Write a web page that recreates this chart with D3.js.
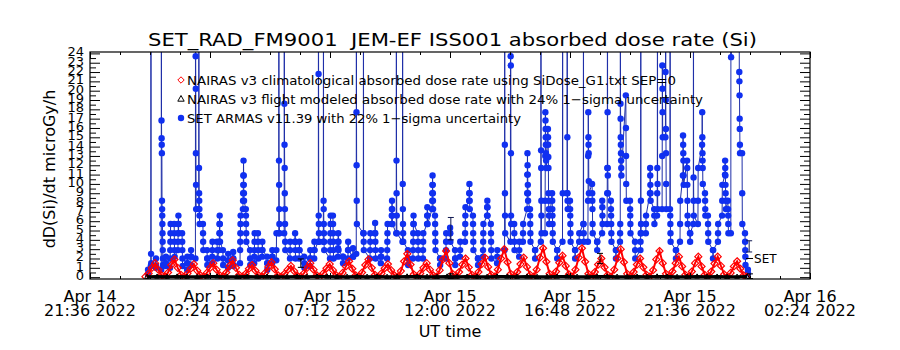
<!DOCTYPE html>
<html lang="en">
<head>
<meta charset="UTF-8">
<title>SET_RAD_FM9001 absorbed dose rate</title>
<script src="https://d3js.org/d3.v7.min.js"></script>
<style>
  body { margin: 0; background: #fff; }
  text { font-family: "DejaVu Sans", sans-serif; fill: #000; }
  .pre { white-space: pre; }
</style>
</head>
<body>
<script>

// ---- axis / labels ----
const titleText = 'SET_RAD_FM9001  JEM-EF ISS001 absorbed dose rate (Si)';
const xTitle = 'UT time';
const yTitle = 'dD(Si)/dt microGy/h';
const xTickTimes = ['2022-04-14T21:36Z', '2022-04-15T02:24Z', '2022-04-15T07:12Z', '2022-04-15T12:00Z',
                    '2022-04-15T16:48Z', '2022-04-15T21:36Z', '2022-04-16T02:24Z'];
const xTickDay = ['Apr 14', 'Apr 15', 'Apr 15', 'Apr 15', 'Apr 15', 'Apr 15', 'Apr 16'];
const xTickClock = ['21:36 2022', '02:24 2022', '07:12 2022', '12:00 2022', '16:48 2022', '21:36 2022', '02:24 2022'];
const yTickValues = [0, 1, 2, 3, 4, 5, 6, 7, 8, 9, 10, 11, 12, 13, 14, 15, 16, 17, 18, 19, 20, 21, 22, 23, 24];
const legendLabels = [
    'NAIRAS v3 climatological absorbed dose rate using SiDose_G1.txt SEP=0',
    'NAIRAS v3 flight modeled absorbed dose rate with 24% 1\u2212sigma uncertainty',
    'SET ARMAS v11.39 with 22% 1\u2212sigma uncertainty'
];

// all data times are minutes after this epoch
const dataEpoch = new Date(Date.UTC(2022, 3, 14, 21, 36));

// ---- SET ARMAS measured dose rate: sampled in bursts (burst start minute, values in order) ----
// 45 = off-scale SAA spike
const setColMinutes = [
    139, 146, 158, 171, 182, 192, 202, 211, 221, 233,
    242, 253, 261, 271, 281, 293, 305, 310, 319, 331,
    343, 360, 367, 374, 384, 394, 403, 413, 425, 437,
    447, 453, 466, 480, 492, 502, 514, 528, 538, 548,
    560, 576, 583, 595, 607, 619, 631, 639, 656, 672,
    684, 698, 713, 724, 735, 750, 763, 775, 787, 799,
    809, 821, 828, 840, 854, 864, 876, 888, 900, 910,
    919, 931, 943, 953, 962, 977, 995, 1009, 1018, 1030,
    1039, 1049, 1056, 1068, 1082, 1092, 1099, 1109, 1121, 1134,
    1145, 1152, 1164, 1174, 1184, 1195, 1205, 1217, 1229, 1241,
    1250, 1262, 1272, 1286, 1296, 1308, 1321, 1334, 1344, 1354,
    1361, 1373, 1381, 1392, 1406, 1416, 1423, 1433, 1440, 1448,
    1459, 1469, 1476, 1483, 1495, 1507, 1517, 1524, 1531, 1538,
    1558, 1565, 1572, 1579
];
const setColValues = [
    [0.3, 0.8], [1.2, 45, 2.5, 1.5], [1.0, 2.0, 1.2],
    [0.8, 45, 16.8, 14.9, 14.2, 13.3, 8.2, 7.3, 6.6, 5.7, 4.7, 3.8, 2.9, 2.0, 1.3],
    [1.2, 2.2, 1.5], [1.0, 2.0, 2.9, 3.8, 4.7, 5.7], [5.7, 4.7, 3.8, 2.9, 2.2],
    [2.9, 3.8, 4.7, 5.7, 6.6, 5.7, 4.7], [4.7, 3.8, 2.9, 2.0, 1.2], [0.8, 1.5, 2.2, 1.5],
    [1.3, 2.2, 2.9, 2.2], [2.0, 45, 23.7, 20.2, 13.3, 9.9, 7.3],
    [7.3, 45, 11.7, 9.0, 8.2, 7.3, 6.6, 5.7], [5.7, 4.7, 3.8, 2.9], [2.9, 2.0, 1.3, 2.0],
    [1.5, 2.2, 2.9, 3.8], [3.8, 2.9, 2.0], [2.9, 3.8, 4.7, 5.7, 6.6, 5.7, 4.7, 3.8],
    [2.9, 2.0, 1.3], [1.0, 1.8, 2.5, 1.8], [1.2, 2.0, 2.7, 2.0, 1.3],
    [1.5, 2.9, 3.8, 4.7, 5.7, 6.6], [7.3, 8.2, 9.0, 9.9, 10.9, 12.5, 10.9, 9.9, 9.0, 8.2],
    [7.3, 6.6, 5.7, 4.7, 3.8], [2.9, 2.0, 1.3], [1.5, 2.2, 2.9, 3.8, 4.7],
    [4.7, 3.8, 2.9, 2.0], [2.2, 2.9, 3.8, 2.9], [2.2, 1.5, 0.8, 1.5], [1.5, 2.2, 2.9, 2.2],
    [1.8, 2.9, 4.7], [4.7, 45, 12.5, 9.9, 7.3, 5.7, 4.7],
    [4.7, 45, 18.6, 14.2, 11.7, 9.0, 7.3, 5.7, 3.8, 2.9], [2.0, 2.9, 3.8],
    [3.8, 4.7, 3.8, 2.9, 2.0], [2.0, 2.9, 3.8, 2.9], [2.2, 1.5, 1.0], [1.2, 2.0, 2.9, 2.0],
    [2.0, 2.9, 3.8, 2.9], [3.8, 45, 21.8, 6.6, 5.7, 4.7, 3.8],
    [3.8, 45, 8.2, 7.3, 5.7, 4.7, 3.8, 2.9], [2.0, 2.9, 3.8, 4.7, 5.7, 6.6],
    [6.6, 5.7, 4.7, 3.8, 2.9, 2.0], [2.2, 3.1, 3.8, 4.7, 3.8, 2.9], [2.2, 1.5, 2.2],
    [2.0, 2.9, 3.8, 2.9], [2.2, 3.1, 2.2], [2.5, 45, 17.7, 12.0, 8.2, 5.7],
    [4.7, 45, 4.7, 3.8, 2.9], [2.0, 2.9, 3.8, 4.7], [4.7, 5.8, 4.7, 3.8, 2.9, 2.0],
    [1.5, 2.2, 2.9, 2.2], [2.0, 2.9, 3.8, 4.7, 5.7], [5.7, 6.6, 7.3, 8.2, 7.3, 6.6, 5.7],
    [4.7, 45, 12.5, 9.0, 6.6, 4.7], [3.8, 45, 10.0, 7.3, 5.7, 4.7, 3.8], [2.9, 2.0, 1.3],
    [2.0, 2.9, 3.8, 4.7, 5.7, 6.6, 5.7], [4.7, 3.8, 2.9, 2.0], [2.0, 2.9, 3.8, 4.7],
    [5.7, 6.6, 7.5, 6.6, 5.7], [7.3, 8.2, 9.0, 9.9, 10.9, 9.9, 9.0, 8.2, 7.3],
    [6.6, 5.7, 4.7, 3.8, 2.9], [2.0, 1.3, 2.0], [2.0, 2.9, 3.8, 4.7], [4.7, 5.3, 4.7, 3.8],
    [2.9, 2.0, 1.3, 2.0], [2.2, 2.9, 3.8], [3.8, 4.7, 5.7, 6.6, 7.5], [8.2, 9.0, 10.0, 9.0, 8.2, 7.3],
    [6.6, 5.7, 4.7, 3.8, 2.9], [2.0, 1.3, 2.0], [2.2, 2.9, 3.8, 4.7, 5.7], [6.6, 7.5, 8.2, 7.5, 6.6],
    [5.7, 4.7, 3.8, 2.9, 2.0], [1.5, 2.2, 2.9], [2.9, 45, 14.2, 9.0, 6.6, 4.7],
    [3.8, 45, 23.7, 22.7, 13.3, 6.6, 5.7], [5.7, 4.7, 3.8, 2.9], [2.2, 2.9, 3.8],
    [3.8, 4.7, 5.7], [7.3, 9.0, 11.0, 13.3, 12.0, 11.0, 9.9, 9.0, 8.2], [7.3, 6.6, 5.7, 4.7, 3.8],
    [2.9, 2.0, 2.9], [3.8, 45, 13.6, 11.7, 8.2, 6.6, 4.7],
    [4.7, 8.2, 13.0, 17.7, 16.8, 15.9, 15.0, 14.2, 13.3, 12.5, 11.7],
    [15.9, 15.0, 14.2, 12.9, 11.7, 9.0, 8.2, 7.3, 6.6, 5.7], [9.0, 8.2, 7.3, 6.6, 5.7, 4.7, 3.8],
    [2.9, 2.0, 2.9], [3.8, 45, 9.0], [9.0, 45, 15.0, 9.0, 8.2, 7.3], [8.2, 7.3, 6.6, 5.7, 4.7, 3.8],
    [2.9, 2.0, 2.9], [3.8, 4.7], [5.7, 45, 5.7, 4.7, 3.8],
    [3.8, 8.2, 13.0, 17.7, 15.0, 14.2, 13.3, 10.3, 9.0], [10.0, 9.0, 8.2, 7.3, 5.7, 4.7],
    [3.8, 2.9, 3.8], [4.7, 8.2, 7.5, 6.6, 5.7], [5.7, 9.0, 11.7, 45, 17.7, 11.7, 10.9, 9.0],
    [8.2, 7.3, 6.6, 5.7, 4.7, 3.8], [2.9, 2.0, 2.9],
    [3.8, 4.7, 5.7, 45, 18.6, 17.0, 15.0, 14.2, 13.3, 12.5, 11.7, 10.9],
    [19.5, 16.0, 13.0, 10.0, 8.2], [8.2, 7.3, 6.6, 5.7, 4.7], [3.8, 2.9, 2.0],
    [2.9, 3.8, 4.7, 45, 8.2, 5.7, 4.7], [4.7, 5.7, 6.6], [9.0, 11.7, 10.9, 9.9, 9.0, 8.2],
    [7.3, 6.6, 5.7], [6.6, 9.0, 11.7, 45, 10.0, 7.3], [7.3, 13.0, 22.7, 20.2, 17.7, 15.0],
    [15.0, 22.0, 45, 19.0, 15.9, 13.3, 10.0, 7.3], [7.3, 45, 6.6, 5.7, 4.7, 3.8], [2.9, 2.0, 2.9],
    [3.8, 5.7, 8.2], [10.9, 15.2, 14.2, 13.3, 12.5, 10.9, 9.9], [12.5, 11.7, 9.9, 8.2, 6.6, 5.7],
    [4.7, 3.8, 4.7], [5.7, 45, 10.7, 8.2, 6.6], [5.7, 8.2, 11.7],
    [14.2, 17.7, 15.0, 13.3, 12.5, 11.7, 10.0], [9.0, 8.2, 7.3, 6.6], [6.6, 5.7, 4.7, 3.8],
    [2.9, 2.0, 2.9], [3.8, 4.7, 5.7], [6.6, 8.2, 9.9], [11.0, 12.5, 11.7, 10.9, 9.9, 9.0, 8.2, 7.3],
    [8.2, 7.3, 6.6, 5.7, 4.7], [4.7, 45, 23.6, 45],
    [45, 22.0, 21.0, 19.5, 17.0, 15.9, 14.2, 13.3], [13.3, 9.0, 5.7], [4.7, 3.8, 2.9, 2.2, 1.3],
    [0.8, 0.4]
];
const setBurstStep = 0.3;   // minutes between samples inside a burst

// ---- NAIRAS climatological (one row per high-latitude pass) ----
const nairasClimStart = 133;
const nairasClimStep = 7.76;
const nairasClim = [
    0.05, 0.4, 1.0, 1.5, 0.8, 0.2,
    0.05, 0.5, 1.3, 1.9, 1.0, 0.25,
    0.05, 0.4, 0.9, 1.4, 0.7, 0.2,
    0.05, 0.45, 1.0, 1.5, 0.8, 0.2,
    0.05, 0.5, 1.2, 1.8, 1.0, 0.25,
    0.05, 0.35, 0.9, 1.3, 0.7, 0.2,
    0.05, 0.45, 1.1, 1.6, 0.85, 0.2,
    0.05, 0.35, 0.8, 1.2, 0.65, 0.15,
    0.05, 0.4, 1.0, 1.5, 0.8, 0.2,
    0.05, 0.4, 0.95, 1.4, 0.75, 0.2,
    0.05, 0.45, 1.15, 1.7, 0.9, 0.2,
    0.05, 0.5, 1.3, 1.9, 1.0, 0.25,
    0.05, 0.4, 0.95, 1.4, 0.75, 0.2,
    0.05, 0.65, 1.7, 2.5, 1.35, 0.3,
    0.05, 0.4, 1.0, 1.5, 0.8, 0.2,
    0.05, 0.75, 1.9, 2.8, 1.5, 0.35,
    0.05, 0.55, 1.35, 2.0, 1.05, 0.25,
    0.05, 0.55, 1.4, 2.1, 1.1, 0.25,
    0.05, 0.8, 2.0, 3.0, 1.6, 0.35,
    0.05, 0.55, 1.4, 2.1, 1.1, 0.25,
    0.05, 0.8, 2.1, 3.1, 1.65, 0.35,
    0.05, 0.6, 1.55, 2.3, 1.2, 0.3,
    0.05, 0.8, 2.1, 3.1, 1.65, 0.35,
    0.05, 0.55, 1.35, 2.0, 1.05, 0.25,
    0.05, 0.8, 2.0, 3.0, 1.6, 0.35,
    0.05, 0.55, 1.35, 2.0, 1.05, 0.25,
    0.05, 0.75, 1.9, 2.8, 1.5, 0.35,
    0.05, 0.6, 1.5, 2.2, 1.15, 0.25,
    0.05, 0.6, 1.5, 2.2, 1.15, 0.25,
    0.05, 0.6, 1.45, 2.2, 1.2, 0.3,
    0.05, 0.45, 1.15, 1.7, 0.9, 0.2,
    0.05
];

// ---- NAIRAS flight modeled ----
const nairasFlightStart = 137;
const nairasFlightStep = 24;
const nairasFlight = [
    0.04, 0.06, 0.05, 0.07, 0.05, 0.04, 0.06, 0.08, 0.05, 0.04,
    0.06, 0.05, 0.07, 0.05, 0.04, 0.06, 0.05, 0.08, 0.06, 0.04,
    0.05, 0.07, 0.05, 0.06, 0.04, 0.05, 0.08, 0.06, 0.05, 0.04,
    0.07, 0.05, 0.06, 0.05, 0.04, 0.08, 0.06, 0.05, 0.07, 0.04,
    0.05, 0.06, 0.08, 0.05, 0.04, 0.06, 0.07, 0.05, 0.04, 0.06,
    0.05, 0.08, 0.06, 0.04, 0.05, 0.07, 0.05, 0.06, 0.04, 0.05, 0.06
];

// representative 1-sigma bars
const setErrMinutes = [866, 1582];
const setErrValues = [5.2, 3.3];
const setErrSigma = [1.2, 0.6];
const flightErrMinutes = [506, 866, 1224, 1584];
const flightErrValues = [1.5, 0.1, 2.0, 0.1];
const flightErrSigma = [0.45, 0.25, 0.55, 0.25];

// ---- build records ----
const atMinute = m => new Date(dataEpoch.getTime() + m * 60000);

const setData = [];
setColMinutes.forEach((m, c) => {
    setColValues[c].forEach((v, i) => setData.push({ t: atMinute(m + i * setBurstStep), v: v }));
});
const climData = nairasClim.map((v, i) => ({ t: atMinute(nairasClimStart + i * nairasClimStep), v: v }));
const flightData = nairasFlight.map((v, i) => ({ t: atMinute(nairasFlightStart + i * nairasFlightStep), v: v }));

// ---- chart ----
const W = 900, H = 350;
const plot = { left: 90, right: 810, top: 52, bottom: 279 };

const svg = d3.select('body').append('svg').attr('width', W).attr('height', H);

const x = d3.scaleUtc().domain([new Date(xTickTimes[0]), new Date(xTickTimes[6])]).range([plot.left, plot.right]);
const y = d3.scaleLinear().domain([-0.2, 24.15]).range([plot.bottom, plot.top]);

svg.append('clipPath').attr('id', 'plotclip')
    .append('rect')
    .attr('x', plot.left).attr('y', plot.top)
    .attr('width', plot.right - plot.left).attr('height', plot.bottom - plot.top);

const g = svg.append('g').attr('clip-path', 'url(#plotclip)');

// SET ARMAS line + dots
const line = d3.line().x(d => x(d.t)).y(d => y(d.v));
g.append('path')
    .datum(setData)
    .attr('d', line)
    .attr('fill', 'none')
    .attr('stroke', '#1f2fa8')
    .attr('stroke-width', 1);

g.selectAll('circle.set')
    .data(setData.filter(d => d.v < 25))
    .join('circle')
    .attr('class', 'set')
    .attr('cx', d => x(d.t))
    .attr('cy', d => y(d.v))
    .attr('r', 3.2)
    .attr('fill', '#1030f0');

// NAIRAS climatological: red diamonds
const diamond = 'M0,-3.5L3.5,0L0,3.5L-3.5,0Z';
g.append('path')
    .datum(climData)
    .attr('d', line)
    .attr('fill', 'none')
    .attr('stroke', '#ff0000')
    .attr('stroke-width', 2);
g.selectAll('path.clim')
    .data(climData)
    .join('path')
    .attr('class', 'clim')
    .attr('d', diamond)
    .attr('transform', d => `translate(${x(d.t)},${y(d.v)})`)
    .attr('fill', 'none')
    .attr('stroke', '#ff0000')
    .attr('stroke-width', 1.2);

// NAIRAS flight modeled: black triangles
const triangle = 'M0,-2.6L2.4,1.6L-2.4,1.6Z';
g.append('path')
    .datum(flightData)
    .attr('d', line)
    .attr('fill', 'none')
    .attr('stroke', '#000')
    .attr('stroke-width', 3);
g.selectAll('path.flight')
    .data(flightData)
    .join('path')
    .attr('class', 'flight')
    .attr('d', triangle)
    .attr('transform', d => `translate(${x(d.t)},${y(d.v)})`)
    .attr('fill', 'none')
    .attr('stroke', '#000')
    .attr('stroke-width', 1);

// error bars
function errBars(minutes, values, sigma, color) {
    minutes.forEach((m, i) => {
        const cx = x(atMinute(m));
        const y0 = y(values[i] - sigma[i]), y1 = y(values[i] + sigma[i]);
        const eb = g.append('g').attr('stroke', color).attr('stroke-width', 1);
        eb.append('line').attr('x1', cx).attr('x2', cx).attr('y1', y0).attr('y2', y1);
        eb.append('line').attr('x1', cx - 3).attr('x2', cx + 3).attr('y1', y0).attr('y2', y0);
        eb.append('line').attr('x1', cx - 3).attr('x2', cx + 3).attr('y1', y1).attr('y2', y1);
    });
}
errBars(setErrMinutes, setErrValues, setErrSigma, '#101850');
errBars(flightErrMinutes, flightErrValues, flightErrSigma, '#000');

// SET tag at end of series
const lastSet = setData[setData.length - 1];
svg.append('line')
    .attr('x1', x(lastSet.t) - 2).attr('x2', x(lastSet.t) + 5)
    .attr('y1', y(2)).attr('y2', y(2))
    .attr('stroke', '#000');
svg.append('text')
    .attr('x', x(lastSet.t) + 6).attr('y', y(2) + 5)
    .attr('font-size', 12)
    .text('SET');

// ---- axes (ticks point inward) ----
const minorX = d3.range(0, 1729, 72).map(atMinute);
const majorX = xTickTimes.map(s => new Date(s));
const axisNoDomain = sel => sel.select('.domain').remove();

svg.append('g').attr('transform', `translate(0,${plot.bottom})`)
    .call(d3.axisBottom(x).tickValues(minorX).tickSize(-3).tickSizeOuter(0).tickFormat(''))
    .call(axisNoDomain);
svg.append('g').attr('transform', `translate(0,${plot.bottom})`)
    .call(d3.axisBottom(x).tickValues(majorX).tickSize(-6).tickSizeOuter(0).tickFormat(''))
    .call(axisNoDomain);
svg.append('g').attr('transform', `translate(0,${plot.top})`)
    .call(d3.axisTop(x).tickValues(minorX).tickSize(-3).tickSizeOuter(0).tickFormat(''))
    .call(axisNoDomain);
svg.append('g').attr('transform', `translate(0,${plot.top})`)
    .call(d3.axisTop(x).tickValues(majorX).tickSize(-6).tickSizeOuter(0).tickFormat(''))
    .call(axisNoDomain);

const minorY = yTickValues.slice(0, -1).map(v => v + 0.5);
svg.append('g').attr('transform', `translate(${plot.left},0)`)
    .call(d3.axisLeft(y).tickValues(yTickValues).tickSize(-10).tickSizeOuter(0).tickFormat(''))
    .call(axisNoDomain);
svg.append('g').attr('transform', `translate(${plot.left},0)`)
    .call(d3.axisLeft(y).tickValues(minorY).tickSize(-6).tickSizeOuter(0).tickFormat(''))
    .call(axisNoDomain);
svg.append('g').attr('transform', `translate(${plot.right},0)`)
    .call(d3.axisRight(y).tickValues(yTickValues).tickSize(-10).tickSizeOuter(0).tickFormat(''))
    .call(axisNoDomain);
svg.append('g').attr('transform', `translate(${plot.right},0)`)
    .call(d3.axisRight(y).tickValues(minorY).tickSize(-6).tickSizeOuter(0).tickFormat(''))
    .call(axisNoDomain);
svg.selectAll('.tick line').attr('stroke', '#000').attr('stroke-width', 1);

// frame
svg.append('rect')
    .attr('x', plot.left).attr('y', plot.top)
    .attr('width', plot.right - plot.left).attr('height', plot.bottom - plot.top)
    .attr('fill', 'none').attr('stroke', '#000').attr('stroke-width', 1.2);

// tick labels
svg.selectAll('text.ylab')
    .data(yTickValues)
    .join('text')
    .attr('class', 'ylab')
    .attr('x', 84)
    .attr('y', d => y(d) + 3)
    .attr('text-anchor', 'end')
    .attr('font-size', 13)
    .text(d => d);

majorX.forEach((t, i) => {
    svg.append('text').attr('x', x(t)).attr('y', 302)
        .attr('text-anchor', 'middle').attr('font-size', 16).text(xTickDay[i]);
    svg.append('text').attr('x', x(t)).attr('y', 316)
        .attr('text-anchor', 'middle').attr('font-size', 16).text(xTickClock[i]);
});

// titles
svg.append('text').attr('class', 'pre').attr('x', 148).attr('y', 46)
    .attr('font-size', 18).attr('textLength', 609).attr('lengthAdjust', 'spacingAndGlyphs')
    .text(titleText);
svg.append('text').attr('x', 450).attr('y', 337)
    .attr('text-anchor', 'middle').attr('font-size', 16).text(xTitle);
svg.append('text')
    .attr('transform', 'translate(55,169) rotate(-90)')
    .attr('text-anchor', 'middle').attr('font-size', 16).text(yTitle);

// legend
const legendY = [80, 99, 118];
const legendLen = [489, 516, 334];
legendLabels.forEach((s, i) => {
    svg.append('text').attr('x', 187).attr('y', legendY[i] + 5)
        .attr('font-size', 13).attr('textLength', legendLen[i]).attr('lengthAdjust', 'spacingAndGlyphs')
        .text(s);
});
svg.append('path').attr('d', 'M0,-3.2L3.2,0L0,3.2L-3.2,0Z').attr('transform', `translate(181,${legendY[0]})`)
    .attr('fill', 'none').attr('stroke', '#ff0000');
svg.append('path').attr('d', 'M0,-3.5L3.2,2.2L-3.2,2.2Z').attr('transform', `translate(181,${legendY[1]})`)
    .attr('fill', 'none').attr('stroke', '#000');
svg.append('circle').attr('cx', 181).attr('cy', legendY[2]).attr('r', 3.2).attr('fill', '#1030f0');

</script>
</body>
</html>
